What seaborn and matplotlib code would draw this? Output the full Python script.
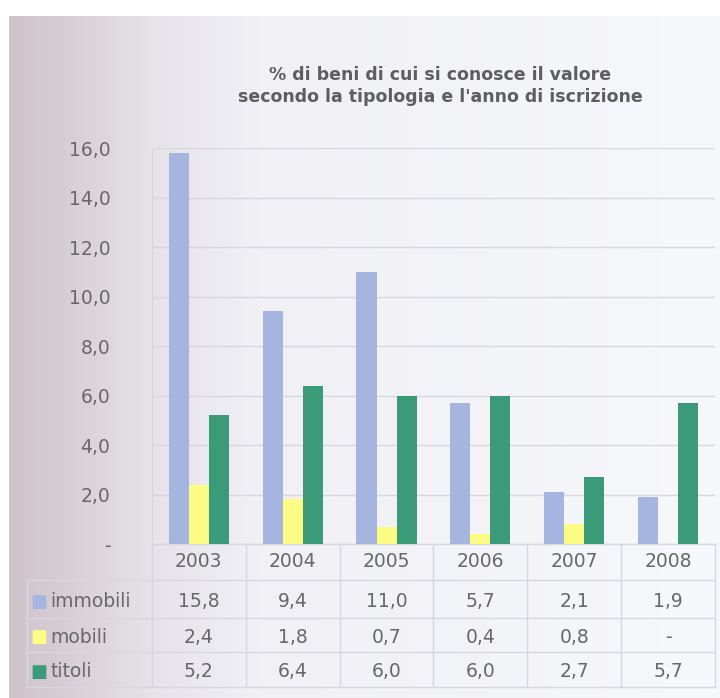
import numpy as np
import pandas as pd
import matplotlib
matplotlib.use("Agg")
import matplotlib.pyplot as plt
from matplotlib.colors import LinearSegmentedColormap
from matplotlib.ticker import FuncFormatter
import seaborn as sns

# ------------------------------------------------------------
# DATA
# ------------------------------------------------------------
years = ["2003", "2004", "2005", "2006", "2007", "2008"]
types = ["immobili", "mobili", "titoli"]
immobili = [15.8, 9.4, 11.0, 5.7, 2.1, 1.9]
mobili = [2.4, 1.8, 0.7, 0.4, 0.8, np.nan]
titoli = [5.2, 6.4, 6.0, 6.0, 2.7, 5.7]
colors = ["#A6B4E0", "#FCFC84", "#3B9B79"]
title = "% di beni di cui si conosce il valore\nsecondo la tipologia e l'anno di iscrizione"

df = pd.DataFrame({"anno": years * 3,
                   "tipo": np.repeat(types, len(years)),
                   "valore": immobili + mobili + titoli})

# ------------------------------------------------------------
# STYLE
# ------------------------------------------------------------
sns.set_style("white")
plt.rcParams["font.family"] = ["DejaVu Sans"]
TXT = "#686868"
LINE = "#d8d6de"
FS = 13.5

fig = plt.figure(figsize=(7.2, 6.98), dpi=100)
fig.patch.set_facecolor("white")

# scanned page background (soft gradient)
bg = fig.add_axes([0.012, 0.0, 0.988, 0.977], zorder=0)
cmap = LinearSegmentedColormap.from_list(
    "paper", [(0.0, "#cfc3ca"), (0.1, "#d9d2d8"), (0.2, "#e6e3e9"),
              (0.35, "#f0f0f5"), (1.0, "#f7f8fb")])
grad = np.tile(np.linspace(0, 1, 256), (64, 1))
bg.imshow(grad, cmap=cmap, aspect="auto", extent=[0, 1, 0, 1])
bg.axis("off")

ax = fig.add_axes([0.211, 0.2206, 0.782, 0.5673], zorder=1)
ax.patch.set_alpha(0)

sns.barplot(data=df, x="anno", y="valore", hue="tipo", order=years,
            hue_order=types, palette=colors, width=0.64, gap=0,
            saturation=1, linewidth=0, legend=False, ax=ax, zorder=3)

ax.set_xlim(-0.5, len(years) - 0.5)
ax.set_ylim(0, 16)
ax.set_yticks(np.arange(0, 17, 2))
ax.yaxis.set_major_formatter(FuncFormatter(
    lambda v, p: "-" if v == 0 else f"{v:.1f}".replace(".", ",")))
ax.tick_params(axis="y", labelsize=FS, labelcolor=TXT, length=0, pad=30)
ax.set_xticks([])
ax.set_xlabel("")
ax.set_ylabel("")
ax.grid(axis="y", color=LINE, linewidth=1, zorder=0)
for s in ["top", "right", "bottom"]:
    ax.spines[s].set_visible(False)
ax.spines["left"].set_color(LINE)

fig.text(0.611, 0.877, title, ha="center", va="center", fontsize=12.5,
         fontweight="bold", color="#5e5e5e", linespacing=1.3)

# ------------------------------------------------------------
# DATA TABLE UNDER THE CHART
# ------------------------------------------------------------
tr = ax.get_xaxis_transform()
row_lines = [0.0, -0.091, -0.187, -0.273, -0.361]
row_text = [-0.045, -0.146, -0.235, -0.323]
x_left = -1.83

ax.plot([-0.5, len(years) - 0.5], [0, 0], transform=tr,
        color=LINE, linewidth=1, clip_on=False)
for yl in row_lines[1:]:
    ax.plot([x_left, len(years) - 0.5], [yl, yl], transform=tr,
            color=LINE, linewidth=1, clip_on=False)
ax.plot([x_left, x_left], [row_lines[1], row_lines[-1]], transform=tr,
        color=LINE, linewidth=1, clip_on=False)
for xb in np.arange(-0.5, len(years), 1.0):
    ax.plot([xb, xb], [0, row_lines[-1]], transform=tr,
            color=LINE, linewidth=1, clip_on=False)

for i, yr in enumerate(years):
    ax.text(i, row_text[0], yr, transform=tr, ha="center", va="center",
            fontsize=FS, color=TXT)

series = [immobili, mobili, titoli]
for r, (name, vals, col) in enumerate(zip(types, series, colors)):
    yt = row_text[r + 1]
    ax.text(-1.71, yt, "■", transform=tr, ha="center", va="center",
            fontsize=13, color=col)
    ax.text(-1.58, yt, name, transform=tr, ha="left", va="center",
            fontsize=FS, color=TXT)
    for i, v in enumerate(vals):
        lab = "-" if np.isnan(v) else f"{v:.1f}".replace(".", ",")
        ax.text(i, yt, lab, transform=tr, ha="center", va="center",
                fontsize=FS, color=TXT)

plt.savefig("out.png", dpi=100)
